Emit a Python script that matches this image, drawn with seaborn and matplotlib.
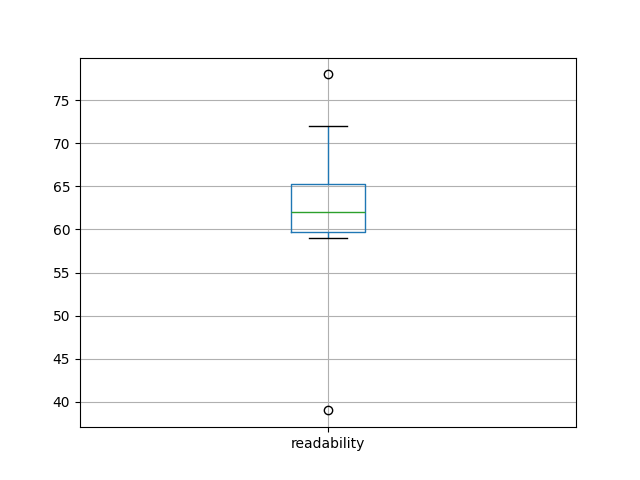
import matplotlib
matplotlib.use("Agg")
import matplotlib.pyplot as plt
import seaborn as sns
import pandas as pd

column_name = "readability"
readability = [39, 59, 59.4, 60, 61, 62, 63, 65, 65.6, 72, 78]

df = pd.DataFrame({column_name: readability})

fig, ax = plt.subplots(figsize=(6.4, 4.8), dpi=100)
sns.boxplot(data=df, ax=ax, width=0.15, fill=False, whis=1.5, linewidth=1.0)

BLUE = "#1f77b4"
for cont in ax.containers:
    if hasattr(cont, "boxes"):
        for b in cont.boxes:
            if hasattr(b, "set_edgecolor"):
                b.set_edgecolor(BLUE); b.set_facecolor("none")
            else:
                b.set_color(BLUE)
            b.set_linewidth(1.0)
        for m in cont.medians:
            m.set_color("#2ca02c"); m.set_linewidth(1.0)
        for w in cont.whiskers:
            w.set_color(BLUE); w.set_linewidth(1.0)
        for c in cont.caps:
            c.set_color("black"); c.set_linewidth(1.0)
        for f in cont.fliers:
            f.set_marker("o"); f.set_markerfacecolor("none")
            f.set_markeredgecolor("black"); f.set_markersize(6)
            f.set_markeredgewidth(1.0)

ax.set_xlim(-0.5, 0.5)
ax.set_ylim(37.05, 79.95)
ax.set_xlabel("")
ax.set_ylabel("")
ax.grid(True, color="#b0b0b0", linewidth=0.8)
for s in ax.spines.values():
    s.set_visible(True)
    s.set_color("black")
    s.set_linewidth(0.8)

fig.savefig("out.png", dpi=100)
